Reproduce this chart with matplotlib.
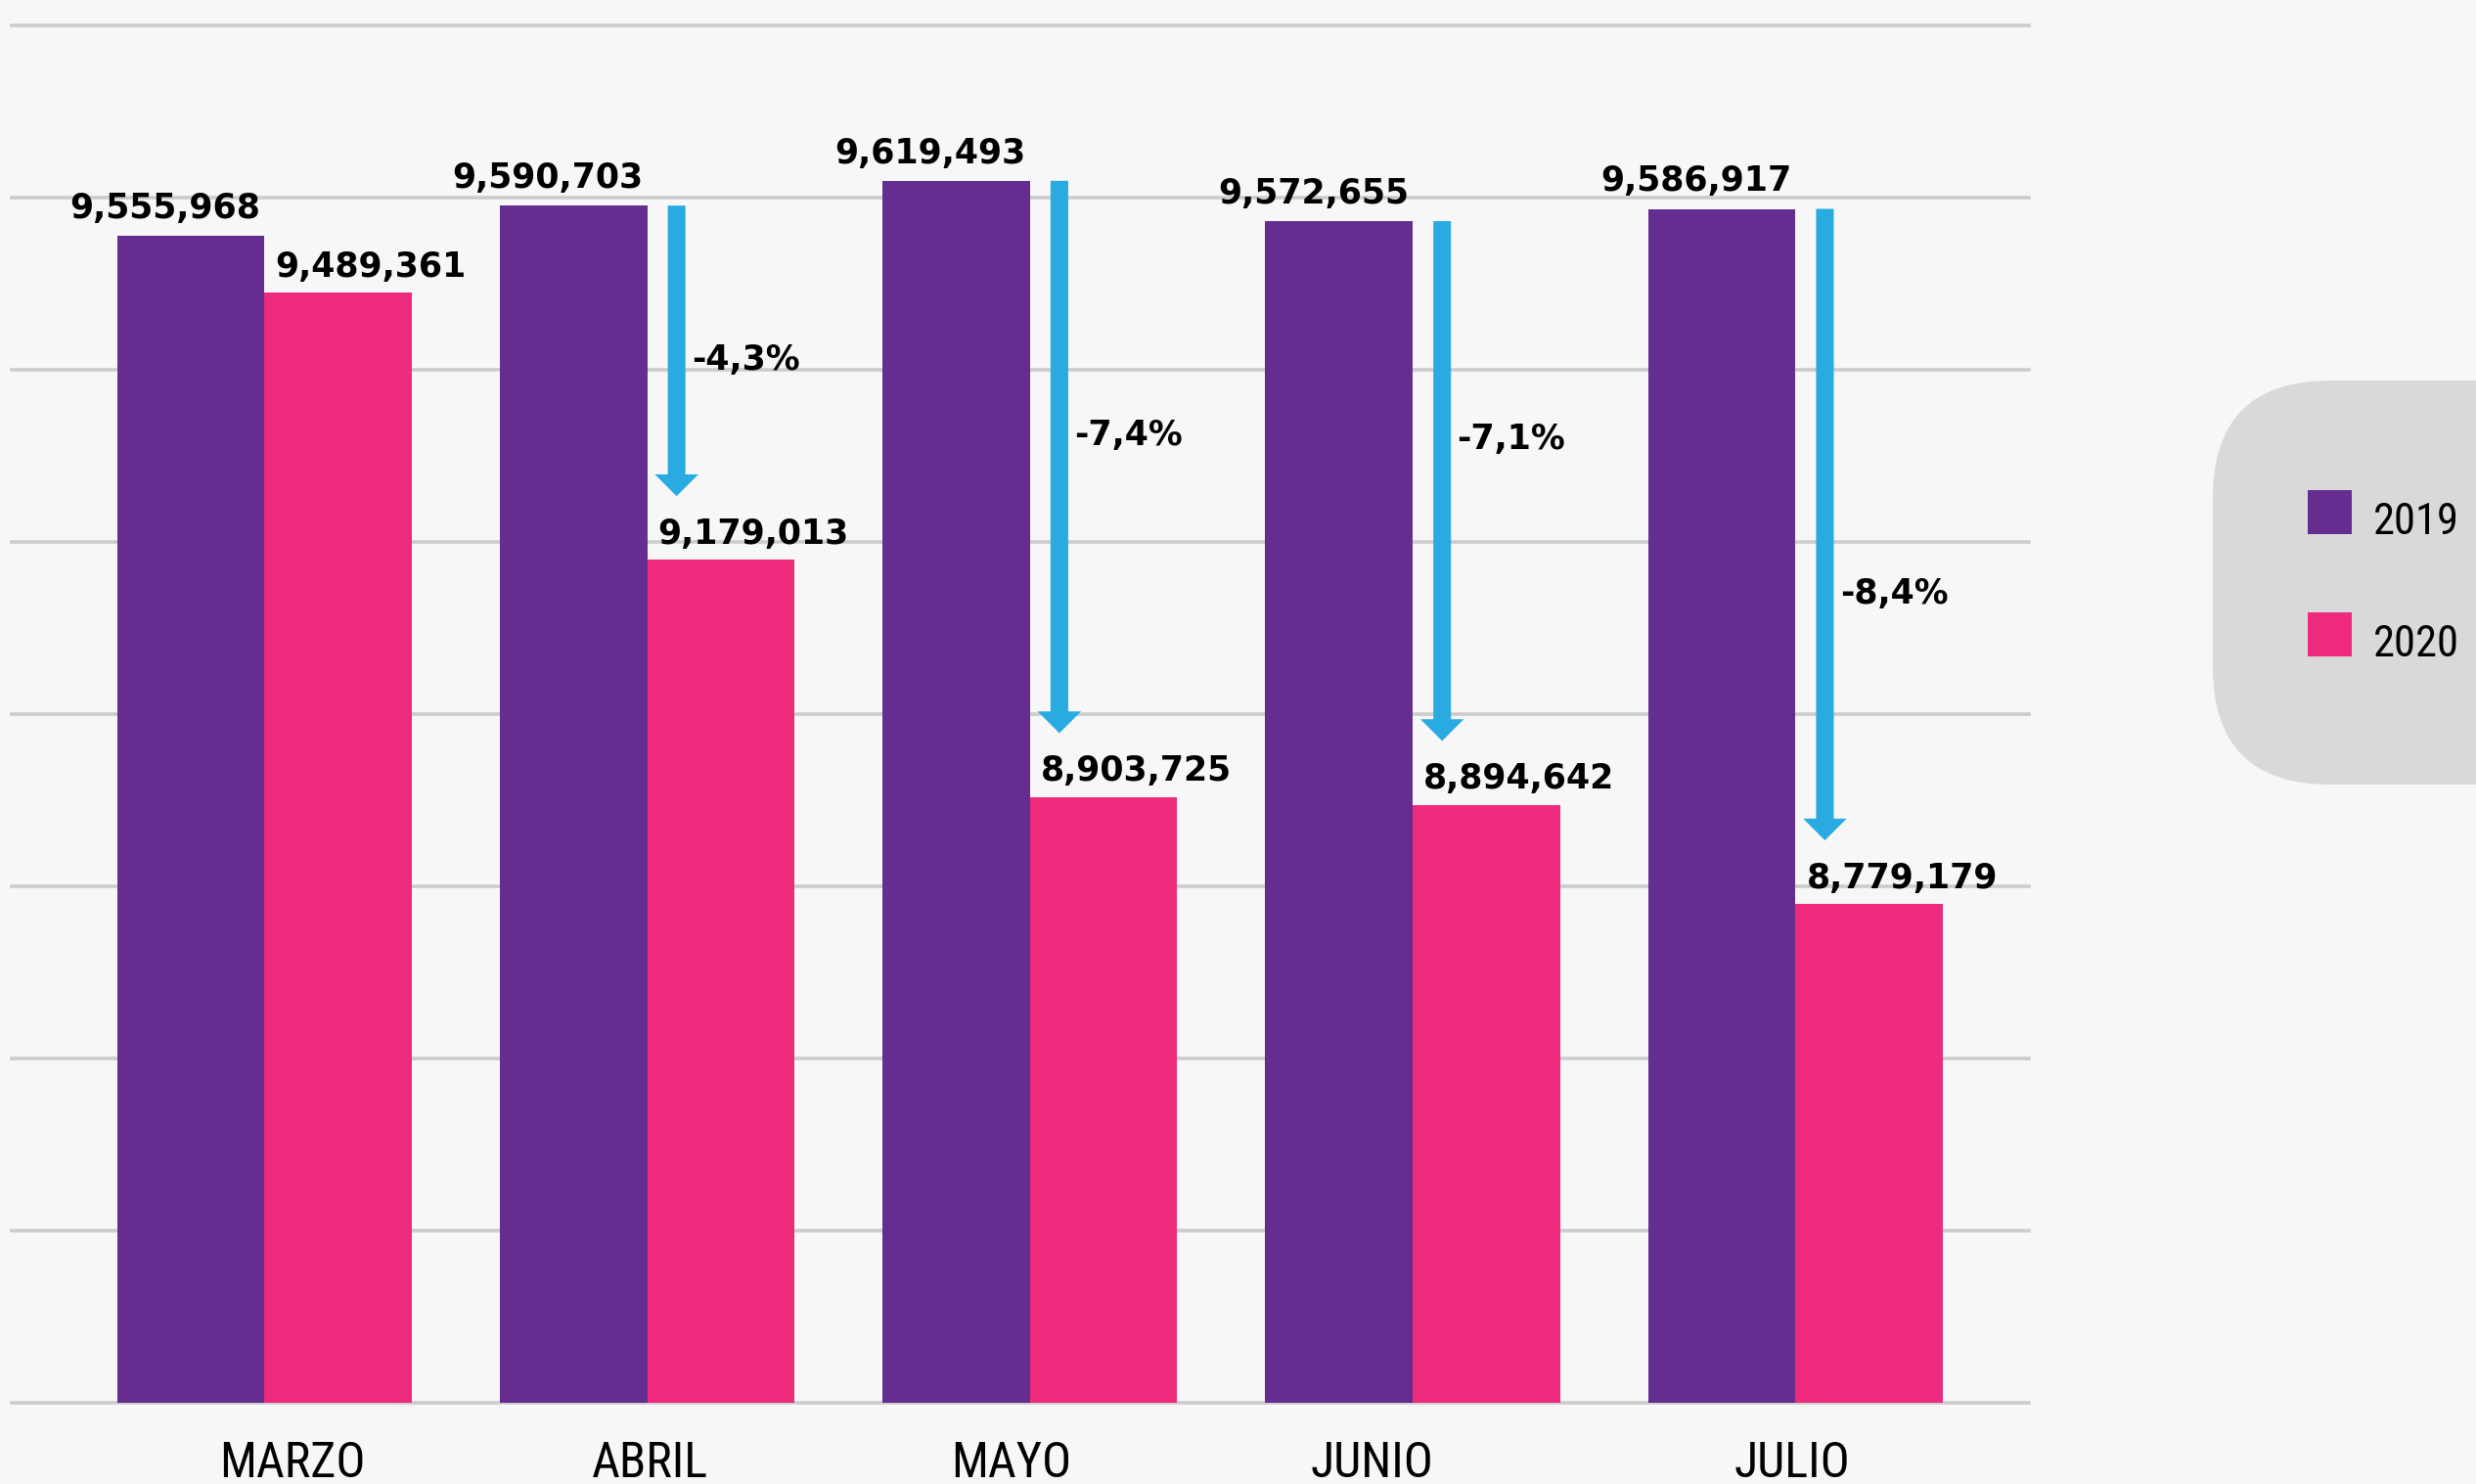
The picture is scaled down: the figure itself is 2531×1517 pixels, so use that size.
import numpy as np
import matplotlib
matplotlib.use("Agg")
import matplotlib.pyplot as plt
from matplotlib import font_manager as fm
from matplotlib.patches import FancyBboxPatch, Rectangle
from matplotlib.transforms import IdentityTransform, offset_copy

# ---------------- data ----------------
months = ["MARZO", "ABRIL", "MAYO", "JUNIO", "JULIO"]
series_names = ["2019", "2020"]
values_2019 = [9555968, 9590703, 9619493, 9572655, 9586917]
values_2020 = [9489361, 9179013, 8903725, 8894642, 8779179]
y_min, y_max, y_step = 8200000, 9800000, 200000

# ---------------- style ----------------
BG = "#f7f7f7"
PURPLE = "#652d90"
PINK = "#ed2a7b"
BLUE = "#29abe2"
GRID = "#cccccc"
W, H = 2531, 1517
DPI = 100
NUM_FONT = dict(family=["DejaVu Sans"], weight="bold")
# small horizontal nudges of the month labels (category units), as in the original layout
label_nudge = [0.072, 0.008, -0.049, -0.107, -0.010]


def find_condensed():
    """Return (fname, scale) of a narrow font if one is installed."""
    entries = fm.fontManager.ttflist
    prefs = [("Noto Sans", True), ("Noto Sans Condensed", False),
             ("Roboto Condensed", False), ("Liberation Sans Narrow", False),
             ("Open Sans", True), ("Open Sans Condensed", False),
             ("DejaVu Sans", True)]
    for name, need_stretch in prefs:
        for f in entries:
            if f.name != name:
                continue
            st = str(f.stretch).lower()
            if need_stretch and ("condensed" not in st and "narrow" not in st):
                continue
            if str(f.weight) not in ("400", "normal", "regular") and f.weight != 400:
                continue
            if str(f.style) != "normal":
                continue
            return f.fname, 1.0
    return None, 0.82


cond_fname, cond_scale = find_condensed()


def cond_props(size):
    if cond_fname:
        return fm.FontProperties(fname=cond_fname, size=size * cond_scale)
    return fm.FontProperties(family="DejaVu Sans", size=size * cond_scale)


fig = plt.figure(figsize=(W / DPI, H / DPI), dpi=DPI, facecolor=BG)
ax_left, ax_right = 12, 2074
ax_top, ax_bottom = 26, 1434
ax = fig.add_axes([ax_left / W, 1 - ax_bottom / H,
                   (ax_right - ax_left) / W, (ax_bottom - ax_top) / H])
ax.set_facecolor(BG)

x = np.arange(len(months))
bw = 0.385
b19 = ax.bar(x - bw / 2, values_2019, width=bw, color=PURPLE, zorder=2)
b20 = ax.bar(x + bw / 2, values_2020, width=bw, color=PINK, zorder=2)

ax.set_xlim(-0.66, len(months) - 1 + 0.61)
ax.set_ylim(y_min, y_max)
ax.set_yticks(np.arange(y_min, y_max + 1, y_step))
ax.set_yticklabels([])
ax.grid(axis="y", color=GRID, lw=2.6, zorder=0)
for gl in ax.get_ygridlines():
    gl.set_clip_on(False)
ax.set_axisbelow(True)
for s in ax.spines.values():
    s.set_visible(False)
ax.tick_params(axis="both", length=0)
ax.set_xticks(x + np.array(label_nudge))
ax.set_xticklabels(months, fontproperties=cond_props(36), color="black")
ax.tick_params(axis="x", pad=27)

# value labels
for i, v in enumerate(values_2019):
    ax.annotate(f"{v:,}", xy=(x[i], v), xytext=(-3, 8), textcoords="offset points",
                ha="right", va="bottom", fontsize=25, color="black", **NUM_FONT)
for i, v in enumerate(values_2020):
    ax.annotate(f"{v:,}", xy=(x[i], v), xytext=(8, 7), textcoords="offset points",
                ha="left", va="bottom", fontsize=25, color="black", **NUM_FONT)

# arrows with percentage changes (from ABRIL onwards)
pct_frac = [0.53, 0.46, 0.42, 0.61]
tip_tr = offset_copy(ax.transData, fig=fig, y=47, units="points")
for k, i in enumerate(range(1, len(months))):
    xa = x[i] + 0.2 * bw
    v19, v20 = values_2019[i], values_2020[i]
    ax.annotate("", xy=(xa, v20), xycoords=tip_tr, xytext=(xa, v19), textcoords="data",
                arrowprops=dict(width=13, headwidth=32, headlength=16,
                                facecolor=BLUE, edgecolor="none", shrink=0), zorder=3)
    tip_px = tip_tr.transform((xa, v20))
    tip_y = ax.transData.inverted().transform(tip_px)[1]
    ymid = v19 + (tip_y - v19) * pct_frac[k]
    pct = (v20 - v19) / v19 * 100
    ax.annotate(f"{pct:.1f}%".replace(".", ","), xy=(xa, ymid), xytext=(11, 0),
                textcoords="offset points", ha="left", va="center",
                fontsize=25, color="black", **NUM_FONT)

# legend panel (rounded grey box cut by right edge)
box = FancyBboxPatch((2262, H - 802), 420, 413,
                     boxstyle="round,pad=0,rounding_size=120",
                     transform=IdentityTransform(), facecolor="#d9d9d9",
                     edgecolor="none", zorder=0)
fig.add_artist(box)
for name, col, top in zip(series_names, [PURPLE, PINK], [501, 626]):
    fig.add_artist(Rectangle((2359, H - top - 45), 45, 45, transform=IdentityTransform(),
                             facecolor=col, edgecolor="none"))
    fig.text(2426 / W, 1 - (top + 45) / H, name, fontproperties=cond_props(32),
             ha="left", va="baseline", color="black")

fig.savefig("out.png", dpi=DPI, facecolor=BG)
